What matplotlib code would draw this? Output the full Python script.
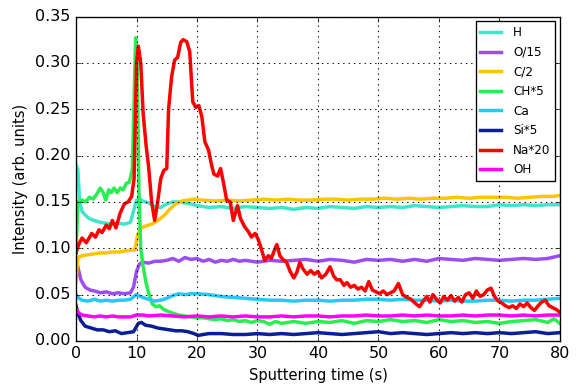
import numpy as np
import matplotlib
matplotlib.use('Agg')
import matplotlib.pyplot as plt

# values, (time, intensity) per species
labels = ['H', 'O/15', 'C/2', 'CH*5', 'Ca', 'Si*5', 'Na*20', 'OH']
colors = ['#3ee6cc', '#9b4df2', '#ffc400', '#28ee50', '#26c8f6', '#0a1e96', '#ff0000', '#ff00ff']

t_h = [0, 0.3, 0.6, 1, 1.5, 2.2, 3, 4, 5, 6, 7, 8, 9, 9.5, 10, 10.5, 11, 12, 13, 14, 15, 16, 17, 18,
       19, 20, 22, 24, 26, 28, 30, 32, 34, 36, 38, 40, 42, 44, 46, 48, 50, 52, 54, 56, 58, 60, 62,
       64, 66, 68, 70, 72, 74, 76, 78, 80]
h = [0.190, 0.185, 0.150, 0.140, 0.136, 0.132, 0.130, 0.128, 0.127, 0.126, 0.127, 0.126, 0.128,
     0.140, 0.152, 0.154, 0.151, 0.149, 0.145, 0.144, 0.148, 0.150, 0.150, 0.149, 0.148, 0.146,
     0.144, 0.145, 0.143, 0.145, 0.144, 0.143, 0.144, 0.142, 0.144, 0.143, 0.145, 0.144, 0.143,
     0.145, 0.144, 0.145, 0.144, 0.146, 0.145, 0.144, 0.145, 0.146, 0.145, 0.145, 0.147, 0.146,
     0.147, 0.146, 0.147, 0.147]

t_o = [0, 0.3, 0.8, 1.5, 2.3, 3, 4, 5, 6, 7, 8, 9, 9.5, 10, 10.5, 11, 12, 13, 14, 15, 16, 17, 18,
       19, 20, 21, 22, 23, 24, 25, 26, 27, 28, 30, 32, 34, 36, 38, 40, 42, 44, 46, 48, 50, 52, 54,
       56, 58, 60, 62, 64, 66, 68, 70, 72, 74, 76, 78, 80]
o = [0.090, 0.080, 0.066, 0.058, 0.055, 0.054, 0.052, 0.053, 0.051, 0.052, 0.051, 0.052, 0.058,
     0.075, 0.083, 0.085, 0.084, 0.086, 0.086, 0.087, 0.089, 0.086, 0.090, 0.088, 0.089, 0.086,
     0.088, 0.085, 0.087, 0.086, 0.088, 0.086, 0.087, 0.085, 0.087, 0.086, 0.087, 0.088, 0.086,
     0.088, 0.087, 0.085, 0.088, 0.087, 0.088, 0.086, 0.088, 0.086, 0.089, 0.088, 0.087, 0.089,
     0.088, 0.087, 0.088, 0.089, 0.088, 0.089, 0.092]

t_c = [0, 0.3, 1, 2, 3, 4, 5, 6, 7, 8, 9, 9.7, 10.2, 10.8, 11.5, 12.5, 13.5, 14.5, 15.5, 16.5, 17.5,
       18.5, 19.5, 21, 23, 25, 27, 29, 31, 33, 35, 37, 39, 41, 43, 45, 47, 49, 51, 53, 55, 57, 59,
       61, 63, 65, 67, 69, 71, 73, 75, 77, 79, 80]
c = [0.065, 0.090, 0.092, 0.093, 0.094, 0.095, 0.095, 0.096, 0.096, 0.097, 0.098, 0.098, 0.115,
     0.122, 0.124, 0.126, 0.130, 0.135, 0.142, 0.148, 0.151, 0.152, 0.153, 0.152, 0.151, 0.152,
     0.151, 0.152, 0.153, 0.152, 0.153, 0.152, 0.152, 0.153, 0.153, 0.152, 0.153, 0.153, 0.154,
     0.153, 0.154, 0.153, 0.154, 0.154, 0.155, 0.154, 0.155, 0.155, 0.155, 0.154, 0.155, 0.156,
     0.156, 0.157]

t_ch = [0, 0.3, 1, 1.6, 2.2, 2.8, 3.4, 4.0, 4.5, 4.9, 5.4, 5.8, 6.3, 6.8, 7.3, 7.8, 8.3, 8.8, 9.3,
        9.6, 9.85, 10.1, 10.4, 10.7, 11.1, 11.6, 12.0, 12.6, 13.2, 13.8, 14.5, 15.2, 16, 17, 18, 19,
        20, 21, 22, 23, 24, 25, 26, 27, 28, 29, 30, 31, 32, 33, 34, 35, 36, 38, 40, 42, 44, 46, 48,
        50, 52, 54, 56, 58, 60, 62, 64, 66, 68, 70, 72, 74, 76, 78, 79, 80]
ch = [0.095, 0.150, 0.152, 0.150, 0.155, 0.153, 0.158, 0.165, 0.160, 0.152, 0.163, 0.160, 0.165,
      0.160, 0.165, 0.163, 0.170, 0.171, 0.185, 0.260, 0.327, 0.300, 0.160, 0.100, 0.080, 0.062,
      0.052, 0.040, 0.037, 0.038, 0.034, 0.032, 0.030, 0.028, 0.027, 0.026, 0.025, 0.025, 0.024,
      0.023, 0.024, 0.022, 0.023, 0.021, 0.022, 0.020, 0.022, 0.021, 0.018, 0.021, 0.019, 0.020,
      0.021, 0.019, 0.021, 0.020, 0.022, 0.019, 0.022, 0.021, 0.023, 0.021, 0.022, 0.020, 0.023,
      0.021, 0.022, 0.020, 0.021, 0.019, 0.021, 0.022, 0.023, 0.020, 0.024, 0.019]

t_ca = [0, 0.5, 1, 2, 3, 4, 5, 6, 7, 8, 9, 10, 11, 12, 13, 14, 15, 16, 17, 18, 19, 20, 22, 24, 26,
        28, 30, 32, 34, 36, 38, 40, 42, 44, 46, 48, 50, 52, 54, 56, 58, 60, 62, 64, 66, 68, 70, 72,
        74, 76, 78, 80]
ca = [0.050, 0.046, 0.044, 0.043, 0.045, 0.043, 0.044, 0.043, 0.044, 0.044, 0.045, 0.050, 0.047,
      0.045, 0.043, 0.044, 0.046, 0.049, 0.051, 0.050, 0.051, 0.051, 0.050, 0.048, 0.047, 0.046,
      0.045, 0.044, 0.044, 0.043, 0.044, 0.044, 0.043, 0.044, 0.044, 0.045, 0.045, 0.044, 0.045,
      0.044, 0.044, 0.043, 0.044, 0.043, 0.043, 0.044, 0.044, 0.043, 0.044, 0.044, 0.045, 0.046]

t_si = [0, 0.3, 0.8, 1.5, 2.5, 3.5, 4.5, 5.5, 6.5, 7.5, 8.5, 9.5, 10.3, 10.8, 11.5, 12.5, 13.5,
        14.5, 15.5, 16.5, 17.5, 18.5, 19.5, 20.2, 21, 22, 24, 26, 28, 30, 32, 34, 36, 38, 40, 42,
        44, 46, 48, 50, 52, 54, 56, 58, 60, 62, 64, 66, 68, 70, 72, 74, 76, 78, 80]
si = [0.038, 0.030, 0.022, 0.016, 0.014, 0.012, 0.012, 0.010, 0.011, 0.008, 0.009, 0.010, 0.019,
      0.020, 0.017, 0.016, 0.014, 0.013, 0.012, 0.011, 0.011, 0.010, 0.008, 0.006, 0.007, 0.008,
      0.008, 0.007, 0.007, 0.008, 0.007, 0.008, 0.007, 0.008, 0.009, 0.008, 0.007, 0.008, 0.009,
      0.010, 0.008, 0.009, 0.008, 0.007, 0.008, 0.009, 0.008, 0.009, 0.008, 0.009, 0.008, 0.009,
      0.010, 0.008, 0.009]

t_na = [0, 0.5, 1, 1.7, 2.6, 3.2, 3.8, 4.3, 5.0, 5.5, 6.0, 6.6, 7.3, 8.0, 8.6, 9.2, 9.6, 10.0, 10.3,
        10.7, 11.1, 11.6, 12.0, 12.5, 13.0, 13.5, 14.0, 14.5, 15.0, 15.3, 15.8, 16.3, 16.8, 17.3,
        17.7, 18.3, 18.8, 19.3, 19.8, 20.3, 20.8, 21.3, 21.9, 22.4, 22.8, 23.4, 23.9, 24.4, 24.9,
        25.5, 26.0, 26.7, 27.2, 27.9, 28.5, 29.0, 29.6, 30.1, 30.6, 31.2, 31.8, 32.3, 32.8, 33.2,
        33.7, 34.2, 34.8, 35.4, 36.0, 36.5, 37.0, 37.5, 38.2, 38.8, 39.4, 40.0, 40.6, 41.3, 42.0,
        42.6, 43.1, 43.7, 44.3, 44.8, 45.4, 46.0, 46.6, 47.2, 47.8, 48.4, 49.0, 49.6, 50.2, 50.8,
        51.4, 52.0, 52.6, 53.3, 54.0, 54.7, 55.4, 56.2, 56.8, 57.4, 58.0, 58.5, 59.0, 59.6, 60.2,
        60.8, 61.4, 62.0, 62.6, 63.2, 63.8, 64.4, 65.0, 65.6, 66.2, 66.8, 67.4, 68.0, 68.6, 69.2,
        69.8, 70.4, 71.0, 71.6, 72.2, 72.8, 73.4, 74.0, 74.6, 75.2, 75.8, 76.4, 77.0, 77.6, 78.2,
        78.8, 79.4, 80.0]
na = [0.095, 0.105, 0.111, 0.106, 0.116, 0.112, 0.120, 0.117, 0.125, 0.121, 0.130, 0.122, 0.138,
      0.148, 0.150, 0.156, 0.175, 0.300, 0.318, 0.300, 0.245, 0.210, 0.188, 0.150, 0.130, 0.150,
      0.175, 0.184, 0.186, 0.250, 0.285, 0.303, 0.306, 0.322, 0.325, 0.323, 0.312, 0.258, 0.252,
      0.254, 0.242, 0.215, 0.206, 0.190, 0.180, 0.178, 0.186, 0.170, 0.152, 0.150, 0.130, 0.146,
      0.132, 0.123, 0.118, 0.112, 0.116, 0.110, 0.100, 0.087, 0.092, 0.089, 0.098, 0.104, 0.092,
      0.088, 0.085, 0.075, 0.068, 0.074, 0.085, 0.078, 0.072, 0.076, 0.072, 0.075, 0.068, 0.072,
      0.080, 0.070, 0.066, 0.066, 0.060, 0.063, 0.058, 0.060, 0.056, 0.058, 0.054, 0.064, 0.055,
      0.053, 0.051, 0.054, 0.050, 0.052, 0.054, 0.062, 0.050, 0.047, 0.045, 0.040, 0.037, 0.043,
      0.048, 0.042, 0.050, 0.045, 0.041, 0.048, 0.044, 0.049, 0.043, 0.047, 0.042, 0.050, 0.052,
      0.046, 0.054, 0.048, 0.050, 0.055, 0.057, 0.048, 0.043, 0.041, 0.038, 0.036, 0.038, 0.035,
      0.040, 0.037, 0.041, 0.036, 0.033, 0.038, 0.042, 0.044, 0.038, 0.036, 0.034, 0.031]

t_oh = [0, 0.5, 1, 2, 3, 4, 5, 6, 7, 8, 9, 10, 11, 12, 14, 16, 18, 20, 22, 24, 26, 28, 30, 32, 34,
        36, 38, 40, 42, 44, 46, 48, 50, 52, 54, 56, 58, 60, 62, 64, 66, 68, 70, 72, 74, 76, 78, 80]
oh = [0.034, 0.030, 0.028, 0.027, 0.026, 0.027, 0.026, 0.027, 0.026, 0.026, 0.026, 0.028, 0.028,
      0.027, 0.028, 0.027, 0.026, 0.027, 0.026, 0.027, 0.026, 0.027, 0.026, 0.026, 0.027, 0.026,
      0.027, 0.027, 0.026, 0.027, 0.027, 0.028, 0.027, 0.027, 0.028, 0.027, 0.028, 0.027, 0.027,
      0.028, 0.027, 0.028, 0.028, 0.027, 0.028, 0.027, 0.028, 0.028]

series = [(t_h, h), (t_o, o), (t_c, c), (t_ch, ch), (t_ca, ca), (t_si, si), (t_na, na), (t_oh, oh)]

plt.style.use('classic')
plt.rcParams['font.family'] = 'DejaVu Sans'

fig = plt.figure(figsize=(6, 4), dpi=96, facecolor='white')
ax = fig.add_axes([0.132, 0.112, 0.840, 0.845])

for (tt, yy), lab, col in zip(series, labels, colors):
    ax.plot(tt, yy, color=col, lw=2.6, label=lab)

ax.set_xlim(0, 80)
ax.set_ylim(0, 0.35)
ax.set_xticks(np.arange(0, 81, 10))
ax.set_yticks(np.arange(0, 0.351, 0.05))
ax.set_yticklabels(['%.2f' % v for v in np.arange(0, 0.351, 0.05)])
ax.tick_params(labelsize=12)
ax.grid(True, linestyle=':', color='k', linewidth=0.8)
ax.set_xlabel('Sputtering time (s)', fontsize=11)
ax.set_ylabel('Intensity (arb. units)', fontsize=11)

leg = ax.legend(loc='upper right', fontsize=9, handlelength=1.7, labelspacing=0.55,
                borderaxespad=0.4, handletextpad=1.0, numpoints=1, fancybox=False)
leg.get_frame().set_linewidth(1.0)

fig.savefig('out.png', dpi=96, facecolor='white')
